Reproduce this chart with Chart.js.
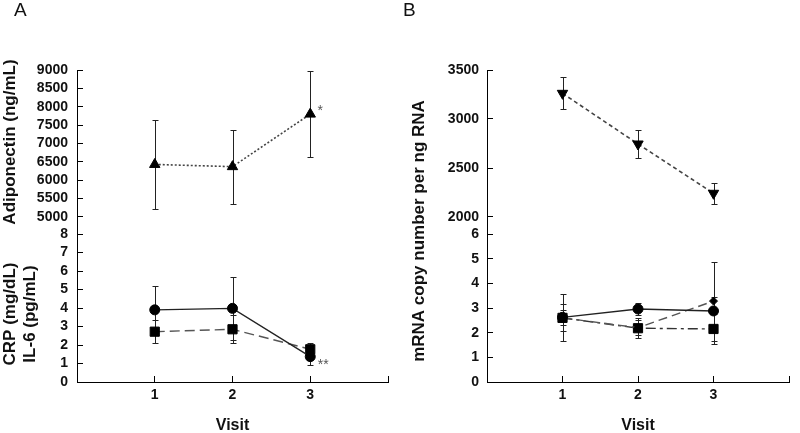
<!DOCTYPE html>
<html>
<head>
<meta charset="utf-8">
<script src="https://cdn.jsdelivr.net/npm/chart.js@4/dist/chart.umd.min.js"></script>
<style>
  html, body { margin: 0; padding: 0; background: #fff; }
  #wrap { position: relative; width: 800px; height: 433px; }
  canvas { position: absolute; top: 0; }
  #panelA { left: 0; }
  #panelB { left: 400px; }
</style>
</head>
<body>
<div id="wrap">
  <canvas id="panelA" width="400" height="433"></canvas>
  <canvas id="panelB" width="400" height="433"></canvas>
</div>
<script>
const visits = [1, 2, 3];
const visitTicks = [0, 1, 2, 3, 4];

// panel A
const adiponectin = [6430, 6370, 7800];
const adiponectinErr = [1220, 1010, 1180];
const crp = [3.9, 3.98, 1.37];
const crpErr = [1.3, 1.7, 0.45];
const il6 = [2.72, 2.85, 1.77];
const il6Err = [0.62, 0.75, 0.35];
const adiponectinTicks = [5000, 5500, 6000, 6500, 7000, 7500, 8000, 8500, 9000];
const crpTicks = [0, 1, 2, 3, 4, 5, 6, 7, 8];

// panel B
const mrnaTop = [3262, 2745, 2242];
const mrnaTopErr = [163, 140, 110];
const mrnaCircle = [2.62, 2.96, 2.88];
const mrnaCircleErr = [0.3, 0.25, 0.58];
const mrnaSquare = [2.6, 2.18, 2.15];
const mrnaSquareErr = [0.95, 0.4, 0.6];
const mrnaDiamond = [2.6, 2.2, 3.28];
const mrnaDiamondErr = [0.55, 0.3, 1.6];
const mrnaTopTicks = [2000, 2500, 3000, 3500];
const mrnaTicks = [0, 1, 2, 3, 4, 5, 6];

const FONT = "'Liberation Sans', Arial, sans-serif";
Chart.defaults.font.family = FONT;
Chart.defaults.color = '#111';

const pts = vals => visits.map((v, i) => ({ x: v, y: vals[i] }));

// error bars, the broken top axis line and the loose text
function makeExtras(cfg) {
  return {
    id: 'extras',
    beforeDatasetsDraw(chart) {
      const ctx = chart.ctx;
      const xs = chart.scales.x;
      ctx.save();
      const top = chart.scales.yTop;
      const ax = Math.round(top.right) + 0.5;
      ctx.strokeStyle = '#000';
      ctx.lineWidth = 1;
      ctx.beginPath();
      ctx.moveTo(ax, top.getPixelForValue(top.max));
      ctx.lineTo(ax, top.getPixelForValue(cfg.axisFrom));
      ctx.stroke();

      ctx.strokeStyle = '#222';
      chart.data.datasets.forEach(ds => {
        if (!ds.errors) return;
        const ys = chart.scales[ds.yAxisID];
        ds.data.forEach((p, j) => {
          const px = Math.round(xs.getPixelForValue(p.x)) + 0.5;
          const hi = Math.round(ys.getPixelForValue(p.y + ds.errors[j])) + 0.5;
          const lo = Math.round(ys.getPixelForValue(p.y - ds.errors[j])) + 0.5;
          ctx.beginPath();
          ctx.moveTo(px, hi); ctx.lineTo(px, lo);
          ctx.moveTo(px - 3, hi); ctx.lineTo(px + 3, hi);
          ctx.moveTo(px - 3, lo); ctx.lineTo(px + 3, lo);
          ctx.stroke();
        });
      });
      ctx.restore();
    },
    afterDraw(chart) {
      const ctx = chart.ctx;
      const xs = chart.scales.x;
      ctx.save();
      ctx.fillStyle = '#111';
      ctx.font = '19px ' + FONT;
      ctx.textAlign = 'left';
      ctx.textBaseline = 'middle';
      ctx.fillText(cfg.letter.text, cfg.letter.x, cfg.letter.y);

      ctx.font = 'bold 17px ' + FONT;
      ctx.textAlign = 'center';
      cfg.sideTitles.forEach(t => {
        ctx.save();
        ctx.translate(t.x, t.y);
        ctx.rotate(-Math.PI / 2);
        t.lines.forEach((line, i) => ctx.fillText(line, 0, i * 20));
        ctx.restore();
      });

      ctx.fillStyle = '#555';
      ctx.font = '14px ' + FONT;
      cfg.notes.forEach(n => {
        const ys = chart.scales[n.axis];
        ctx.fillText(n.text, xs.getPixelForValue(n.x) + n.dx, ys.getPixelForValue(n.y) + n.dy);
      });
      ctx.restore();
    }
  };
}

const tickFont = { family: FONT, size: 14, weight: 'bold' };

function yScale(tickValues, min, max, weight, stackWeight, width, pad) {
  return {
    type: 'linear',
    position: 'left',
    stack: 'v',
    weight: weight,
    stackWeight: stackWeight,
    min: min,
    max: max,
    afterBuildTicks: s => { s.ticks = tickValues.map(v => ({ value: v })); },
    afterFit: s => { s.width = width; },
    ticks: {
      callback: v => String(v),
      autoSkip: false,
      font: tickFont,
      padding: pad,
      color: '#111'
    },
    grid: { drawOnChartArea: false, tickLength: -6, color: '#000' },
    border: { color: '#000' }
  };
}

function xScale() {
  return {
    type: 'linear',
    position: 'bottom',
    min: 0,
    max: 4,
    afterBuildTicks: s => { s.ticks = visitTicks.map(v => ({ value: v })); },
    afterFit: s => { s.height = 51; },
    ticks: {
      callback: v => visits.includes(v) ? String(v) : '',
      font: tickFont,
      padding: 11,
      maxRotation: 0,
      autoSkip: false,
      color: '#111'
    },
    grid: { drawOnChartArea: false, tickLength: -6, color: '#000' },
    border: { color: '#000' },
    title: { display: true, text: 'Visit', font: { family: FONT, size: 16, weight: 'bold' }, color: '#111', padding: { top: 0, bottom: -2 } }
  };
}

function line(label, axis, vals, errs, style) {
  return Object.assign({
    label: label,
    yAxisID: axis,
    data: pts(vals),
    errors: errs,
    borderColor: '#222',
    borderWidth: 1.4,
    pointBackgroundColor: '#000',
    pointBorderColor: '#000',
    pointBorderWidth: 1,
    tension: 0,
    fill: false
  }, style);
}

const commonPlugins = { legend: { display: false }, tooltip: { enabled: false } };

new Chart(document.getElementById('panelA'), {
  type: 'line',
  data: {
    datasets: [
      line('Adiponectin', 'yTop', adiponectin, adiponectinErr,
        { borderColor: '#444', borderWidth: 1.6, borderDash: [2, 2], pointStyle: 'triangle', pointRadius: 6 }),
      line('CRP', 'yBot', crp, crpErr, { pointStyle: 'circle', pointRadius: 5 }),
      line('IL-6', 'yBot', il6, il6Err,
        { borderColor: '#555', borderDash: [10, 5], pointStyle: 'rect', pointRadius: 6.5 })
    ]
  },
  options: {
    responsive: false,
    animation: false,
    layout: { padding: { left: 0, top: 70, right: 12, bottom: 0 } },
    scales: {
      x: xScale(),
      yTop: yScale(adiponectinTicks, 5000 - 17 * 4000 / 147, 9000, 1, 164, 77, 15),
      yBot: yScale(crpTicks, 0, 8, 0, 148, 77, 15)
    },
    plugins: commonPlugins
  },
  plugins: [makeExtras({
    letter: { text: 'A', x: 14, y: 11 },
    axisFrom: 5000,
    sideTitles: [
      { lines: ['Adiponectin (ng/mL)'], x: 10, y: 142 },
      { lines: ['CRP (mg/dL)', 'IL-6 (pg/mL)'], x: 10, y: 314 }
    ],
    notes: [
      { text: '*', x: 3, y: adiponectin[2], axis: 'yTop', dx: 10, dy: -3 },
      { text: '**', x: 3, y: crp[2], axis: 'yBot', dx: 13, dy: 8 }
    ]
  })]
});

new Chart(document.getElementById('panelB'), {
  type: 'line',
  data: {
    datasets: [
      line('mRNA', 'yTop', mrnaTop, mrnaTopErr,
        { borderColor: '#444', borderWidth: 1.6, borderDash: [4, 3], pointStyle: 'triangle', pointRotation: 180, pointRadius: 6 }),
      line('circle', 'yBot', mrnaCircle, mrnaCircleErr, { pointStyle: 'circle', pointRadius: 5 }),
      line('diamond', 'yBot', mrnaDiamond, mrnaDiamondErr,
        { borderColor: '#555', borderDash: [9, 5], pointStyle: 'rectRot', pointRadius: 4 }),
      line('square', 'yBot', mrnaSquare, mrnaSquareErr,
        { borderColor: '#333', borderDash: [10, 4, 3, 4], pointStyle: 'rect', pointRadius: 6.5 })
    ]
  },
  options: {
    responsive: false,
    animation: false,
    layout: { padding: { left: 0, top: 70, right: 1, bottom: 0 } },
    scales: {
      x: xScale(),
      yTop: yScale(mrnaTopTicks, 2000 - 17 * 1500 / 147, 3500, 1, 164, 87, 14),
      yBot: yScale(mrnaTicks, 0, 6, 0, 148, 87, 14)
    },
    plugins: commonPlugins
  },
  plugins: [makeExtras({
    letter: { text: 'B', x: 3, y: 11 },
    axisFrom: 2000,
    sideTitles: [
      { lines: ['mRNA copy number per ng RNA'], x: 19, y: 231 }
    ],
    notes: []
  })]
});
</script>
</body>
</html>
